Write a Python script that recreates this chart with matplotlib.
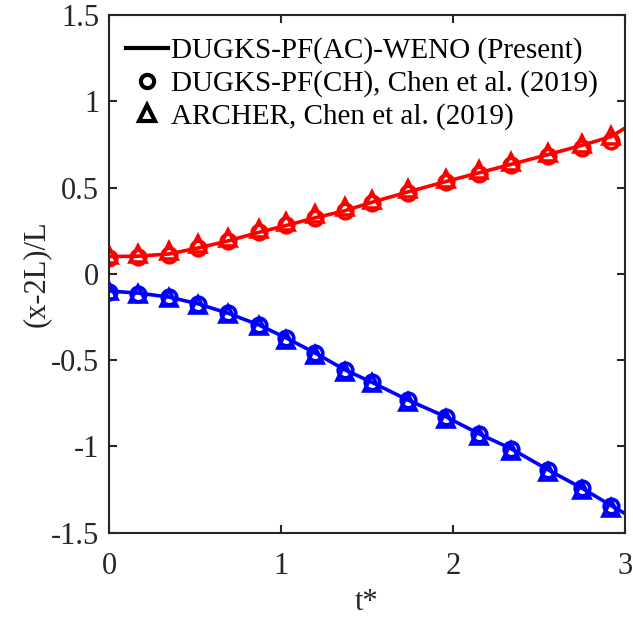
import numpy as np
import matplotlib
matplotlib.use("Agg")
import matplotlib.pyplot as plt
from matplotlib.lines import Line2D

plt.rcParams['font.family'] = ['Liberation Serif', 'DejaVu Serif']

# present solution (solid lines)
t_line = [0.0, 0.17, 0.35, 0.52, 0.69, 0.87, 1.03, 1.20, 1.37, 1.53, 1.74,
          1.96, 2.15, 2.34, 2.55, 2.75, 2.92, 3.0]
red_line = [0.10, 0.102, 0.115, 0.15, 0.19, 0.24, 0.28, 0.325, 0.365, 0.415,
            0.475, 0.535, 0.585, 0.635, 0.69, 0.745, 0.795, 0.845]
blue_line = [-0.10, -0.112, -0.135, -0.175, -0.228, -0.296, -0.372, -0.46,
             -0.556, -0.63, -0.733, -0.83, -0.927, -1.015, -1.135, -1.243,
             -1.344, -1.39]

# reference data, Chen et al. (2019)
t_ref = [0.0, 0.17, 0.35, 0.52, 0.69, 0.87, 1.03, 1.20, 1.37, 1.53, 1.74,
         1.96, 2.15, 2.34, 2.55, 2.75, 2.92]
red_ch = [0.092, 0.096, 0.11, 0.15, 0.19, 0.24, 0.28, 0.325, 0.364, 0.41,
          0.47, 0.53, 0.58, 0.63, 0.68, 0.73, 0.77]
blue_ch = [-0.105, -0.115, -0.137, -0.176, -0.228, -0.296, -0.374, -0.461,
           -0.558, -0.626, -0.733, -0.83, -0.927, -1.015, -1.135, -1.243,
           -1.344]
red_archer = [0.11, 0.115, 0.13, 0.17, 0.21, 0.26, 0.30, 0.345, 0.385, 0.43,
              0.49, 0.55, 0.60, 0.65, 0.70, 0.75, 0.80]
blue_archer = [-0.10, -0.115, -0.14, -0.183, -0.235, -0.305, -0.383, -0.47,
               -0.567, -0.636, -0.745, -0.843, -0.94, -1.027, -1.147, -1.255,
               -1.356]

fig = plt.figure(figsize=(6.33, 6.18), dpi=100)
ax = fig.add_axes([0.1722, 0.1383, 0.8152, 0.8374])

lw = 2.6
ms = 10.5
mew = 2.6
for y_line, y_ch, y_ar, c in [(red_line, red_ch, red_archer, 'r'),
                              (blue_line, blue_ch, blue_archer, 'b')]:
    ax.plot(t_line, y_line, '-', color=c, lw=lw)
    ax.plot(t_ref, y_ch, 'o', mfc='none', mec=c, ms=ms, mew=mew)
    ax.plot(t_ref, y_ar, '^', mfc='none', mec=c, ms=ms + 1.5, mew=mew)

ax.set_xlim(0, 3)
ax.set_ylim(-1.5, 1.5)
ax.set_xticks([0, 1, 2, 3])
ax.set_yticks([-1.5, -1, -0.5, 0, 0.5, 1, 1.5])
ax.set_yticklabels(['-1.5', '-1', '-0.5', '0', '0.5', '1', '1.5'])
ax.set_xticklabels(['0', '1', '2', '3'])
gray = '#262626'
for s in ax.spines.values():
    s.set_color(gray)
    s.set_linewidth(1.5)
ax.tick_params(direction='in', top=True, right=True, length=6, width=1.5,
               colors=gray, labelsize=22)
ax.tick_params(axis='x', pad=14)
ax.tick_params(axis='y', pad=7)
ax.set_xlabel('t*', fontsize=22, color=gray, labelpad=5)
ax.set_ylabel('(x-2L)/L', fontsize=22, color=gray, labelpad=0)

handles = [Line2D([], [], color='k', lw=3),
           Line2D([], [], ls='none', marker='o', mfc='none', mec='k', ms=9.5, mew=3),
           Line2D([], [], ls='none', marker='^', mfc='none', mec='k', ms=11, mew=3)]
labels = ['DUGKS-PF(AC)-WENO (Present)', 'DUGKS-PF(CH), Chen et al. (2019)',
          'ARCHER, Chen et al. (2019)']
ax.legend(handles, labels, loc='upper left', frameon=False, fontsize=21,
          handlelength=1.45, handletextpad=0.12, labelspacing=0.2,
          borderaxespad=0.0, bbox_to_anchor=(0.0095, 0.979))

fig.savefig('out.png', dpi=100)
